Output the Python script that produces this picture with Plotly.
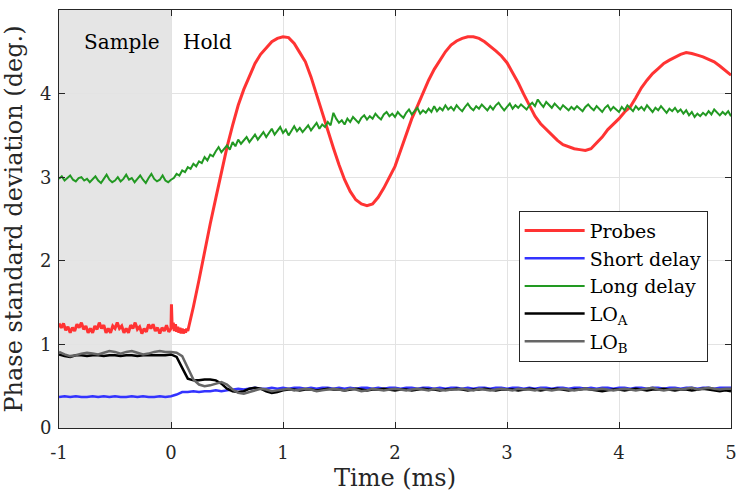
import numpy as np
import plotly.graph_objects as go

# ---------------- data ----------------
x_ticks = [-1, 0, 1, 2, 3, 4, 5]
y_ticks = [0, 1, 2, 3, 4, 5]

probes_t = [-1.0, -0.98, -0.96, -0.94, -0.92, -0.9, -0.88, -0.86, -0.84, -0.82,
            -0.8, -0.78, -0.76, -0.74, -0.72, -0.7, -0.68, -0.66, -0.64, -0.62,
            -0.6, -0.58, -0.56, -0.54, -0.52, -0.5, -0.48, -0.46, -0.44, -0.42,
            -0.4, -0.38, -0.36, -0.34, -0.32, -0.3, -0.28, -0.26, -0.24, -0.22,
            -0.2, -0.18, -0.16, -0.14, -0.12, -0.1, -0.08, -0.06, -0.04, -0.02,
            0.0, 0.004, 0.01, 0.02, 0.03, 0.04, 0.05, 0.06, 0.07, 0.08, 0.09, 0.1,
            0.11, 0.12, 0.13, 0.14, 0.15, 0.175, 0.2,
            0.25, 0.3, 0.35, 0.4, 0.45, 0.5, 0.55, 0.6, 0.65, 0.7, 0.75, 0.8, 0.85, 0.9, 0.95,
            1.0, 1.05, 1.1, 1.15, 1.2, 1.25, 1.3, 1.35, 1.4, 1.45, 1.5, 1.55, 1.6, 1.65, 1.7, 1.75,
            1.8, 1.85, 1.9, 1.95, 2.0, 2.05, 2.1, 2.15, 2.2, 2.25, 2.3, 2.35, 2.4, 2.45, 2.5,
            2.55, 2.6, 2.65, 2.7, 2.75, 2.8, 2.85, 2.9, 2.95, 3.0, 3.05, 3.1, 3.15, 3.2, 3.25,
            3.3, 3.35, 3.4, 3.45, 3.5, 3.55, 3.6, 3.65, 3.7, 3.75, 3.8, 3.85, 3.9, 3.95, 4.0,
            4.05, 4.1, 4.15, 4.2, 4.25, 4.3, 4.35, 4.4, 4.45, 4.5, 4.55, 4.6, 4.65, 4.7, 4.75,
            4.8, 4.85, 4.9, 4.95, 5.0]
probes_v = [1.25, 1.20, 1.25, 1.17, 1.21, 1.14, 1.20, 1.16, 1.24, 1.20,
            1.26, 1.18, 1.22, 1.14, 1.19, 1.14, 1.22, 1.18, 1.26, 1.19,
            1.23, 1.14, 1.19, 1.14, 1.22, 1.19, 1.26, 1.19, 1.22, 1.14,
            1.19, 1.14, 1.23, 1.19, 1.26, 1.18, 1.21, 1.13, 1.19, 1.15,
            1.24, 1.19, 1.24, 1.16, 1.20, 1.13, 1.20, 1.16, 1.23, 1.15,
            1.19, 1.48, 1.22, 1.26, 1.16, 1.24, 1.15, 1.21, 1.14, 1.20, 1.13, 1.19,
            1.13, 1.18, 1.14, 1.19, 1.16, 1.30, 1.45,
            1.77, 2.12, 2.44, 2.75, 3.07, 3.36, 3.62, 3.86, 4.05, 4.21, 4.36, 4.47, 4.55, 4.62, 4.66,
            4.68, 4.67, 4.60, 4.49, 4.38, 4.20, 3.98, 3.77, 3.57, 3.35, 3.15, 2.97, 2.83, 2.73, 2.68, 2.66,
            2.68, 2.76, 2.87, 3.00, 3.13, 3.32, 3.52, 3.70, 3.85, 4.01, 4.16, 4.29, 4.40, 4.50, 4.58,
            4.63, 4.66, 4.68, 4.68, 4.66, 4.62, 4.57, 4.51, 4.45, 4.37, 4.25, 4.13, 3.99, 3.85, 3.73,
            3.64, 3.57, 3.50, 3.44, 3.39, 3.36, 3.34, 3.33, 3.32, 3.34, 3.41, 3.48, 3.57, 3.63, 3.70,
            3.78, 3.84, 3.95, 4.07, 4.16, 4.24, 4.30, 4.36, 4.40, 4.44, 4.47, 4.49, 4.48, 4.46, 4.44,
            4.41, 4.38, 4.33, 4.28, 4.22]

long_t = np.round(np.arange(241) * 0.025 - 1.0, 3)
long_v = [2.98, 3.01, 2.96, 2.99, 3.02, 2.97, 2.95, 2.99, 3.00, 2.96,
          2.98, 2.94, 2.97, 3.01, 2.96, 2.93, 2.98, 3.03, 2.97, 2.94,
          2.96, 3.00, 2.95, 2.98, 3.03, 2.97, 2.99, 2.94, 2.98, 3.02,
          2.97, 2.93, 2.99, 3.04, 2.98, 2.95, 2.97, 3.02, 2.96, 2.94,
          2.97, 2.99, 3.04, 3.02, 3.08, 3.06, 3.12, 3.10, 3.16, 3.13,
          3.19, 3.17, 3.24, 3.20, 3.27, 3.25, 3.31, 3.36, 3.30, 3.34,
          3.38, 3.33, 3.42, 3.37, 3.45, 3.40, 3.44, 3.48, 3.42, 3.47,
          3.51, 3.45, 3.50, 3.54, 3.48, 3.53, 3.58, 3.51, 3.56, 3.60,
          3.53, 3.57, 3.50, 3.56, 3.61, 3.55, 3.59, 3.54, 3.58, 3.62,
          3.56, 3.60, 3.65, 3.58, 3.63, 3.60, 3.66, 3.62, 3.77, 3.70,
          3.65, 3.68, 3.63, 3.70, 3.66, 3.72, 3.68, 3.65, 3.71, 3.74,
          3.69, 3.73, 3.70, 3.76, 3.72, 3.69, 3.75, 3.78, 3.73, 3.76,
          3.72, 3.78, 3.74, 3.71, 3.77, 3.81, 3.75, 3.79, 3.83, 3.76,
          3.80, 3.77, 3.82, 3.78, 3.85, 3.79, 3.83, 3.80, 3.86, 3.81,
          3.84, 3.80, 3.86, 3.82, 3.79, 3.84, 3.88, 3.83, 3.80, 3.85,
          3.82, 3.87, 3.83, 3.80, 3.85, 3.81, 3.86, 3.89, 3.84, 3.80,
          3.84, 3.88, 3.82, 3.86, 3.83, 3.87, 3.84, 3.81, 3.86, 3.89,
          3.85, 3.93, 3.88, 3.84, 3.90, 3.86, 3.83, 3.88, 3.85, 3.81,
          3.86, 3.83, 3.80, 3.84, 3.81, 3.85, 3.82, 3.79, 3.84, 3.87,
          3.83, 3.80, 3.85, 3.81, 3.78, 3.83, 3.86, 3.80, 3.84, 3.81,
          3.78, 3.84, 3.80, 3.86, 3.82, 3.79, 3.85, 3.81, 3.84, 3.80,
          3.86, 3.82, 3.78, 3.83, 3.80, 3.85, 3.81, 3.77, 3.82, 3.79,
          3.83, 3.78, 3.81, 3.76, 3.80, 3.74, 3.78, 3.72, 3.76, 3.73,
          3.77, 3.74, 3.79, 3.75, 3.81, 3.77, 3.74, 3.78, 3.75, 3.79,
          3.73]

t05 = np.round(np.arange(121) * 0.05 - 1.0, 3)
short_v = [0.37, 0.38, 0.37, 0.38, 0.37, 0.37, 0.38, 0.37, 0.38, 0.37,
           0.38, 0.37, 0.37, 0.38, 0.37, 0.38, 0.37, 0.37, 0.38, 0.37,
           0.38, 0.40, 0.43, 0.43, 0.44, 0.43, 0.44, 0.44, 0.45, 0.44,
           0.45, 0.46, 0.47, 0.46, 0.47, 0.48, 0.47, 0.47, 0.48, 0.47,
           0.48, 0.47, 0.48, 0.48, 0.47, 0.48, 0.47, 0.48, 0.48, 0.47,
           0.48, 0.47, 0.48, 0.47, 0.48, 0.48, 0.47, 0.48, 0.47, 0.48,
           0.48, 0.47, 0.48, 0.48, 0.47, 0.48, 0.48, 0.47, 0.48, 0.47,
           0.48, 0.48, 0.47, 0.48, 0.47, 0.48, 0.48, 0.47, 0.48, 0.48,
           0.47, 0.48, 0.48, 0.47, 0.48, 0.47, 0.48, 0.48, 0.47, 0.48,
           0.48, 0.47, 0.48, 0.48, 0.47, 0.48, 0.47, 0.48, 0.48, 0.47,
           0.48, 0.48, 0.47, 0.48, 0.48, 0.47, 0.48, 0.48, 0.47, 0.48,
           0.48, 0.47, 0.48, 0.48, 0.47, 0.48, 0.48, 0.47, 0.48, 0.48,
           0.48]
loa_v = [0.88, 0.86, 0.85, 0.87, 0.87, 0.86, 0.87, 0.87, 0.86, 0.87,
         0.87, 0.86, 0.87, 0.87, 0.86, 0.87, 0.87, 0.87, 0.87, 0.87,
         0.88, 0.85, 0.72, 0.59, 0.57, 0.57, 0.58, 0.58, 0.57, 0.53,
         0.47, 0.44, 0.43, 0.44, 0.47, 0.48, 0.47, 0.44, 0.42, 0.43,
         0.45, 0.46, 0.46, 0.45, 0.46, 0.46, 0.45, 0.46, 0.47, 0.46,
         0.46, 0.45, 0.46, 0.47, 0.46, 0.45, 0.46, 0.46, 0.47, 0.46,
         0.45, 0.46, 0.46, 0.45, 0.46, 0.47, 0.46, 0.46, 0.45, 0.46,
         0.46, 0.47, 0.46, 0.45, 0.46, 0.46, 0.47, 0.46, 0.45, 0.46,
         0.46, 0.46, 0.45, 0.46, 0.47, 0.46, 0.45, 0.46, 0.46, 0.47,
         0.46, 0.45, 0.46, 0.46, 0.47, 0.46, 0.45, 0.44, 0.45, 0.46,
         0.46, 0.45, 0.46, 0.47, 0.46, 0.45, 0.46, 0.46, 0.47, 0.46,
         0.45, 0.46, 0.46, 0.45, 0.46, 0.47, 0.46, 0.45, 0.44, 0.45,
         0.44]
lob_v = [0.91, 0.88, 0.86, 0.87, 0.89, 0.90, 0.89, 0.88, 0.90, 0.92,
         0.91, 0.89, 0.91, 0.92, 0.90, 0.88, 0.89, 0.91, 0.92, 0.91,
         0.91, 0.90, 0.86, 0.72, 0.58, 0.52, 0.50, 0.51, 0.53, 0.55,
         0.52, 0.46, 0.42, 0.41, 0.43, 0.45, 0.47, 0.46, 0.44, 0.45,
         0.46, 0.47, 0.45, 0.46, 0.47, 0.46, 0.44, 0.45, 0.46, 0.47,
         0.46, 0.45, 0.47, 0.46, 0.44, 0.45, 0.47, 0.46, 0.45, 0.46,
         0.47, 0.46, 0.45, 0.46, 0.47, 0.46, 0.45, 0.47, 0.46, 0.45,
         0.46, 0.46, 0.47, 0.46, 0.45, 0.47, 0.46, 0.45, 0.46, 0.47,
         0.46, 0.45, 0.47, 0.46, 0.46, 0.45, 0.47, 0.46, 0.45, 0.46,
         0.47, 0.46, 0.45, 0.46, 0.47, 0.46, 0.46, 0.47, 0.46, 0.45,
         0.46, 0.47, 0.46, 0.45, 0.46, 0.47, 0.48, 0.46, 0.45, 0.46,
         0.47, 0.46, 0.47, 0.48, 0.46, 0.47, 0.48, 0.47, 0.46, 0.47,
         0.47]

# ---------------- figure ----------------
FONT = "DejaVu Serif"
AX = "#262626"

fig = go.Figure()
fig.add_trace(go.Scatter(x=probes_t, y=probes_v, name="Probes", mode="lines",
                         line=dict(color="#ff3333", width=3)))
fig.add_trace(go.Scatter(x=t05, y=short_v, name="Short delay", mode="lines",
                         line=dict(color="#3333ff", width=2.5)))
fig.add_trace(go.Scatter(x=long_t, y=long_v, name="Long delay", mode="lines",
                         line=dict(color="#229922", width=2)))
fig.add_trace(go.Scatter(x=t05, y=loa_v, name="LO<sub>A</sub>", mode="lines",
                         line=dict(color="#000000", width=2.5)))
fig.add_trace(go.Scatter(x=t05, y=lob_v, name="LO<sub>B</sub>", mode="lines",
                         line=dict(color="#666666", width=2.5)))

fig.add_shape(type="rect", xref="x", yref="paper", x0=-1, x1=0, y0=0, y1=1,
              fillcolor="#e5e5e5", line=dict(width=0), layer="below")

fig.add_annotation(x=-0.44, y=4.62, text="Sample", showarrow=False,
                   xanchor="center", yanchor="middle",
                   font=dict(family=FONT, size=20, color="#000000"))
fig.add_annotation(x=0.09, y=4.62, text="Hold", showarrow=False,
                   xanchor="left", yanchor="middle",
                   font=dict(family=FONT, size=20, color="#000000"))

axis_common = dict(showline=True, linecolor=AX, linewidth=1, mirror="ticks",
                   ticks="inside", ticklen=6, tickcolor=AX, tickwidth=1,
                   showgrid=True, gridcolor="#e3e3e3", gridwidth=1,
                   zeroline=False,
                   tickfont=dict(family=FONT, size=18, color=AX))

fig.update_xaxes(range=[-1, 5], tickvals=x_ticks, ticktext=[str(v) for v in x_ticks],
                 ticklabelstandoff=8,
                 title=dict(text="Time (ms)", font=dict(family=FONT, size=24, color=AX),
                            standoff=7),
                 **axis_common)
fig.update_yaxes(range=[0, 5], tickvals=y_ticks, ticktext=[str(v) for v in y_ticks],
                 ticklabelstandoff=3,
                 title=dict(text="Phase standard deviation (deg.)",
                            font=dict(family=FONT, size=24, color=AX), standoff=10),
                 **axis_common)

fig.update_layout(
    width=743, height=500,
    margin=dict(l=59, r=6, t=10, b=72),
    plot_bgcolor="white", paper_bgcolor="white",
    showlegend=True,
    legend=dict(x=0.684, y=0.52, xanchor="left", yanchor="top",
                bgcolor="white", bordercolor=AX, borderwidth=1,
                itemwidth=60,
                font=dict(family=FONT, size=19, color="#000000"),
                tracegroupgap=0),
)

fig.write_html("out.html")
